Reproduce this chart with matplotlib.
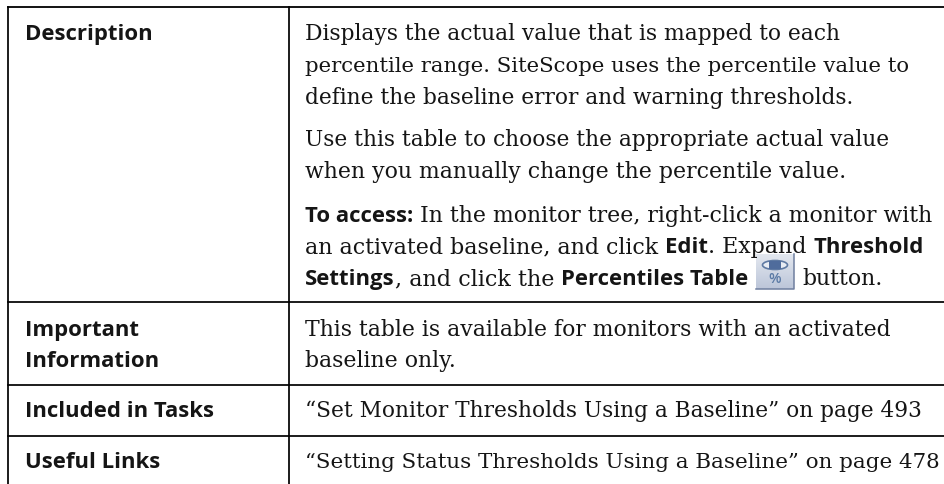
#!/usr/bin/env python3
"""Tabla de referencia: cuatro filas con etiqueta en negrita y texto a la derecha."""
import matplotlib
matplotlib.use("Agg")
import matplotlib.pyplot as plt
import numpy as np
from matplotlib.colors import LinearSegmentedColormap
from matplotlib.patches import Ellipse, Rectangle

W, H = 945, 485
SERIF = "DejaVu Serif"
SANS = "Open Sans"
SERIF_SIZE = 16.0
SANS_SIZE = 15.9
INK = "#151515"

LEFT, MID = 7.5, 288.7
TOP = 8.0
ROW_LINES = [303.3, 385.7, 437]

LABELS = [
    ("Description", 40),
    ("Important", 336),
    ("Information", 367),
    ("Included in Tasks", 417),
    ("Useful Links", 468),
]

# (baseline, ajuste de tamano de la serif, [(texto, negrita), ...])
BODY = [
    (40, 0.982, [("Displays the actual value that is mapped to each", False)]),
    (72, 0.956, [("percentile range. SiteScope uses the percentile value to", False)]),
    (104, 0.975, [("define the baseline error and warning thresholds.", False)]),
    (146, 0.973, [("Use this table to choose the appropriate actual value", False)]),
    (178, 0.993, [("when you manually change the percentile value.", False)]),
    (222, 0.988, [("To access:", True), (" In the monitor tree, right-click a monitor with", False)]),
    (253, 0.995, [("an activated baseline, and click ", False), ("Edit", True),
                  (". Expand ", False), ("Threshold", True)]),
    (285, 1.0, [("Settings", True), (", and click the ", False), ("Percentiles Table", True)]),
    (336, 0.985, [("This table is available for monitors with an activated", False)]),
    (367, 0.993, [("baseline only.", False)]),
    (417, 0.976, [("\u201cSet Monitor Thresholds Using a Baseline\u201d on page 493", False)]),
    (468, 0.96, [("\u201cSetting Status Thresholds Using a Baseline\u201d on page 478", False)]),
]
AFTER_ICON = "button."


def text_width(fig, s, **kw):
    # con "x" a los lados para no perder los espacios al medir
    renderer = fig.canvas.get_renderer()
    a = fig.text(0, 0, "x" + s + "x", **kw)
    b = fig.text(0, 0, "xx", **kw)
    w = a.get_window_extent(renderer).width - b.get_window_extent(renderer).width
    a.remove()
    b.remove()
    return w


def style(bold, scale=1.0):
    if bold:
        return dict(family=SANS, fontweight="bold", fontsize=SANS_SIZE)
    return dict(family=SERIF, fontsize=SERIF_SIZE * scale)


def draw_line(fig, ax, x, y, scale, segments):
    for s, bold in segments:
        kw = style(bold, scale)
        ax.text(x, y, s, va="baseline", ha="left", color=INK, **kw)
        x += text_width(fig, s, **kw)
    return x


def draw_icon(ax, x0, y0, w, h):
    # degradado vertical suave como fondo del boton
    cmap = LinearSegmentedColormap.from_list("boton", ["#e3e7ef", "#bcc6d9"])
    grad = np.linspace(0, 1, 32).reshape(-1, 1)
    ax.imshow(grad, extent=(x0, x0 + w, y0 + h, y0), cmap=cmap, aspect="auto", zorder=2)
    ax.set_xlim(0, W)
    ax.set_ylim(H, 0)
    ax.plot([x0 + w, x0 + w, x0], [y0, y0 + h, y0 + h], color="#6f7f9f", lw=1.1, zorder=3)
    cx = x0 + w / 2
    ax.add_patch(Ellipse((cx, y0 + 11), 25, 9, fc="#e8ecf3", ec="#5f7aa3", lw=1.2, zorder=3))
    ax.add_patch(Rectangle((cx - 6, y0 + 7), 12, 8, fc="#4f6c9c", ec="none", zorder=4))
    ax.text(cx, y0 + 24.5, "%", ha="center", va="center", family=SANS, fontweight="semibold",
            fontsize=10.5, color="#5b7aa5", zorder=4)


def main():
    fig = plt.figure(figsize=(W / 100, H / 100), dpi=100, facecolor="white")
    ax = fig.add_axes([0, 0, 1, 1])
    ax.set_xlim(0, W)
    ax.set_ylim(H, 0)
    ax.axis("off")

    ax.plot([LEFT, W], [TOP, TOP], color="black", lw=1.3, solid_capstyle="projecting")
    for y in ROW_LINES:
        ax.plot([LEFT, W], [y, y], color="black", lw=1.25)
    ax.plot([LEFT, LEFT], [TOP, H], color="black", lw=1.25)
    ax.plot([MID, MID], [TOP, H], color="black", lw=1.25)

    for s, y in LABELS:
        ax.text(25, y, s, va="baseline", ha="left", color=INK, **style(True))

    for y, scale, segments in BODY:
        draw_line(fig, ax, 305, y, scale, segments)

    draw_icon(ax, 756, 255, 38, 35)
    ax.text(802, 285, AFTER_ICON, va="baseline", ha="left", color=INK, **style(False, 0.99))

    fig.savefig("out.png", dpi=100)
    plt.close(fig)


if __name__ == "__main__":
    main()
